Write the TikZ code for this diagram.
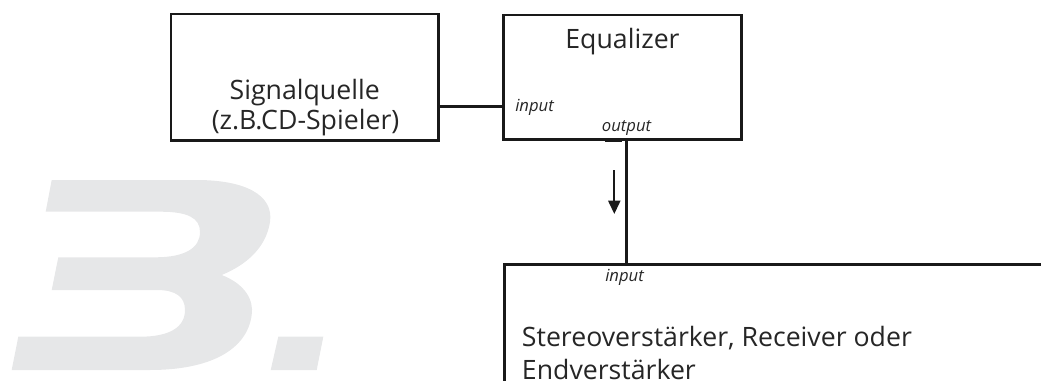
\documentclass[tikz,border=0pt]{standalone}
\usepackage{fontspec}
\setmainfont{Open Sans}
\usetikzlibrary{arrows.meta}
\definecolor{bigthree}{HTML}{E6E7E8}
\tikzset{
  box/.style={draw=black!90, line width=2pt, rectangle, inner sep=0pt},
  wire/.style={draw=black!90, line width=2pt},
  big/.style={inner sep=0pt, font=\fontsize{20}{24}\selectfont, text=black!85},
  port/.style={inner sep=0pt, font=\fontsize{12.5}{14}\selectfont\itshape, text=black!85},
}
\begin{document}
\begin{tikzpicture}[x=0.75pt,y=-0.75pt]
\useasboundingbox (0,0) rectangle (1041,381);
\clip (0,0) rectangle (1041,381);
% big gray "3."
\fill[bigthree] (51.7,180) -- (196.7,180)
  .. controls (245,180) and (274,195) .. (270,222)
  .. controls (266,248) and (246,265) .. (221.7,275)
  .. controls (245,284) and (254,300) .. (251.7,315)
  .. controls (247,350) and (210,370) .. (150,370)
  -- (11.7,370) -- (18.3,336.7) -- (140,336.7)
  .. controls (170,336.7) and (185,327) .. (185,310)
  .. controls (185,297) and (176,290) .. (156.7,290)
  -- (51.7,290) -- (58.3,257.3) -- (156.7,257.3)
  .. controls (185,257) and (200,248) .. (200,232)
  .. controls (200,218) and (188,211.7) .. (160,211.7)
  -- (45.7,211.7) -- cycle;
\fill[bigthree] (278.3,336.7) -- (323.3,336.7) -- (316.7,370) -- (270.7,370) -- cycle;
% boxes
\node[box, minimum width=267.3*0.75pt, minimum height=126.7*0.75pt] (sq) at (304.7,77.3) {};
\node[box, minimum width=238.4*0.75pt, minimum height=124.3*0.75pt] (eq) at (622.5,77.2) {};
\node[box, minimum width=560*0.75pt, minimum height=160*0.75pt, anchor=north west] (amp) at (503.3,263.3) {};
% texts
\node[big, anchor=base] (t1) at (304.7,100) {Signalquelle};
\node[big, anchor=base] (t2) at (305.5,130) {(z.B.CD-Spieler)};
\node[big, anchor=base] (t3) at (622.5,48.3) {Equalizer};
\node[port, anchor=base west] (pin1) at (515,111.7) {input};
\node[port, anchor=base west] (pout) at (601.7,131.7) {output};
\node[port, anchor=base west] (pin2) at (605,281.7) {input};
\node[big, anchor=base west] (t4) at (521.7,346.7) {Stereoverstärker, Receiver oder};
\node[big, anchor=base west] (t5) at (521.7,379.3) {Endverstärker};
% connectors
\coordinate (j) at (470,106.7);
\coordinate (o) at (626.7,200);
\draw[wire] (j -| sq.east) -- (j -| eq.west);
\draw[wire] (o |- eq.south) -- (o |- amp.north);
\coordinate (s1) at (605,140.8);
\coordinate (s2) at (622,140.8);
\draw[wire, line width=2.2pt] (s1) -- (s2);
\coordinate (a1) at (614.3,170);
\coordinate (a2) at (614.3,214);
\draw[wire, line width=1.6pt, -{Triangle[width=9pt,length=10pt]}] (a1) -- (a2);
\end{tikzpicture}
\end{document}
